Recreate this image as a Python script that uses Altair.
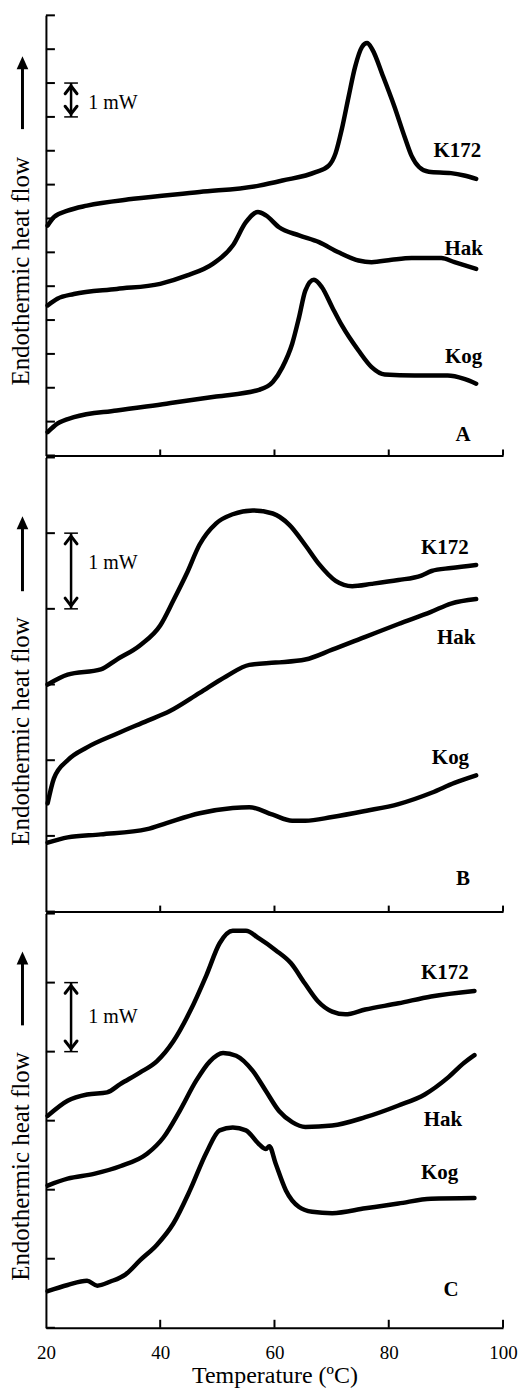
import altair as alt
import pandas as pd

FONT = "Liberation Serif"

# ---------------- Panel A ----------------
A_K172_T = [20.3, 21.4, 23.8, 27.2, 35.3, 46.9, 57.3, 61.4, 67.2, 69.5, 70.7, 71.8, 73.0, 74.1, 75.3, 76.2, 77.1, 79.0, 81.0, 82.8, 84.0, 85.3, 87.0, 90.9, 93.2, 95.3]
A_K172_V = [6.79, 7.04, 7.23, 7.38, 7.58, 7.78, 7.97, 8.12, 8.37, 8.56, 8.93, 9.65, 10.62, 11.47, 12.06, 12.18, 12.00, 11.20, 10.30, 9.40, 8.85, 8.52, 8.38, 8.34, 8.27, 8.17]
A_HAK_T = [20.3, 22.0, 24.9, 32.4, 40.0, 44.6, 49.2, 52.7, 55.0, 57.1, 58.5, 60.8, 64.3, 67.8, 71.2, 74.7, 77.0, 80.5, 84.0, 89.2, 91.5, 95.3]
A_HAK_V = [4.43, 4.63, 4.77, 4.92, 5.07, 5.31, 5.66, 6.20, 6.89, 7.19, 7.09, 6.74, 6.50, 6.30, 6.00, 5.76, 5.71, 5.78, 5.83, 5.83, 5.71, 5.51]
A_KOG_T = [20.3, 22.0, 24.9, 32.4, 41.1, 49.8, 57.3, 59.7, 61.4, 63.1, 64.3, 65.4, 66.9, 68.3, 70.1, 71.8, 74.7, 77.0, 79.3, 84.5, 90.3, 93.2, 95.3]
A_KOG_V = [0.69, 0.94, 1.13, 1.33, 1.53, 1.74, 1.94, 2.17, 2.61, 3.30, 4.08, 4.87, 5.19, 4.97, 4.38, 3.84, 3.10, 2.61, 2.39, 2.36, 2.36, 2.26, 2.12]

# ---------------- Panel B ----------------
B_K172_T = [20.3, 23.8, 29.6, 32.4, 36.5, 40.0, 42.3, 44.6, 46.9, 49.8, 52.7, 56.2, 59.7, 62.6, 65.5, 67.8, 70.7, 73.6, 77.0, 81.7, 85.7, 87.5, 90.9, 95.3]
B_K172_V = [3.00, 3.13, 3.20, 3.33, 3.52, 3.78, 4.11, 4.46, 4.85, 5.13, 5.25, 5.30, 5.26, 5.11, 4.83, 4.59, 4.37, 4.30, 4.33, 4.38, 4.44, 4.50, 4.54, 4.58]
B_HAK_T = [20.3, 21.4, 23.8, 27.2, 32.4, 37.7, 41.7, 46.9, 51.6, 55.6, 60.2, 65.4, 70.1, 75.9, 81.7, 87.4, 90.9, 95.3]
B_HAK_V = [1.43, 1.76, 2.00, 2.17, 2.35, 2.52, 2.65, 2.89, 3.11, 3.26, 3.29, 3.33, 3.46, 3.63, 3.80, 3.96, 4.07, 4.13]
B_KOG_T = [20.3, 23.8, 29.6, 37.7, 41.1, 46.9, 52.7, 55.6, 59.7, 63.1, 65.4, 70.1, 75.9, 81.7, 87.5, 91.5, 95.3]
B_KOG_V = [0.91, 0.98, 1.02, 1.09, 1.17, 1.30, 1.37, 1.38, 1.28, 1.20, 1.20, 1.25, 1.33, 1.42, 1.57, 1.70, 1.80]

# ---------------- Panel C ----------------
C_K172_T = [20.3, 23.8, 27.2, 30.7, 33.0, 36.5, 39.4, 42.3, 45.2, 48.1, 50.4, 52.7, 55.0, 57.3, 60.2, 62.9, 65.3, 67.6, 70.1, 72.4, 75.9, 81.7, 87.4, 95.0]
C_K172_V = [3.07, 3.29, 3.38, 3.41, 3.53, 3.70, 3.86, 4.15, 4.58, 5.11, 5.57, 5.75, 5.75, 5.64, 5.47, 5.28, 4.99, 4.73, 4.58, 4.54, 4.61, 4.70, 4.80, 4.88]
C_HAK_T = [20.3, 23.8, 28.4, 33.0, 37.7, 40.6, 43.4, 46.3, 48.7, 51.0, 53.3, 56.2, 58.5, 60.8, 63.1, 65.4, 70.1, 75.9, 81.7, 86.3, 90.3, 93.2, 95.0]
C_HAK_V = [2.06, 2.16, 2.23, 2.34, 2.52, 2.76, 3.14, 3.58, 3.86, 3.98, 3.94, 3.72, 3.43, 3.14, 2.98, 2.91, 2.93, 3.05, 3.22, 3.38, 3.62, 3.84, 3.95]
C_KOG_T = [20.3, 23.8, 27.2, 29.0, 31.3, 33.9, 36.5, 39.4, 42.3, 45.2, 48.1, 50.4, 52.7, 55.0, 57.3, 58.5, 59.1, 60.2, 62.0, 64.3, 66.6, 70.1, 75.9, 81.7, 87.4, 95.0]
C_KOG_V = [0.53, 0.62, 0.68, 0.61, 0.67, 0.77, 0.98, 1.20, 1.51, 1.99, 2.54, 2.86, 2.90, 2.86, 2.66, 2.59, 2.63, 2.38, 1.99, 1.75, 1.68, 1.66, 1.73, 1.80, 1.87, 1.88]

# series labels: name, T, value
A_LABELS = [("K172", 92.0, 9.0), ("Hak", 93.1, 6.1), ("Kog", 93.1, 2.9)]
B_LABELS = [("K172", 89.8, 4.81), ("Hak", 91.8, 3.62), ("Kog", 90.8, 2.03)]
C_LABELS = [("K172", 89.8, 5.14), ("Hak", 89.5, 3.01), ("Kog", 88.9, 2.24)]

X_TICKS = [20, 40, 60, 80, 100]


def panel(series, ymax, height, labels, letter, letter_pos, bar_lo, text_v,
          title_y, arrow_top, arrow_bot, bottom, xtick_len):
    xscale = alt.Scale(domain=[20, 100], nice=False, zero=False)
    yscale = alt.Scale(domain=[0, ymax], nice=False, zero=False)

    rows = []
    for name, ts, vs in series:
        for t, v in zip(ts, vs):
            rows.append({"series": name, "T": t, "V": v})
    df = pd.DataFrame(rows)

    if bottom:
        xaxis = alt.Axis(values=X_TICKS, ticks=False, tickSize=0, grid=False,
                         domainColor="black", domainWidth=2,
                         labelFont=FONT, labelFontSize=19, labelColor="black",
                         labelPadding=16, labelFlush=False, labelOverlap=False,
                         title="Temperature (ºC)", titleFont=FONT, titleFontSize=24,
                         titleFontWeight="normal", titleColor="black",
                         titleBaseline="alphabetic", titleY=55)
    else:
        xaxis = alt.Axis(labels=False, ticks=False, grid=False, title=None,
                         domainColor="black", domainWidth=2)
    yaxis = alt.Axis(labels=False, ticks=False, grid=False,
                     domainColor="black", domainWidth=2,
                     title="Endothermic heat flow", titleFont=FONT, titleFontSize=25,
                     titleFontWeight="normal", titleColor="black", titleAngle=270,
                     titleAlign="center", titleBaseline="alphabetic",
                     titleX=-17, titleY=title_y)

    X = lambda f: alt.X(f, scale=xscale, axis=xaxis)
    Y = lambda f: alt.Y(f, scale=yscale, axis=yaxis)

    lines = alt.Chart(df).mark_line(
        color="black", strokeWidth=4.5, strokeCap="round", strokeJoin="round",
        interpolate="monotone"
    ).encode(x=X("T:Q"), y=Y("V:Q"), detail="series:N")

    yt = pd.DataFrame({"V": list(range(0, ymax + 1))})
    yticks = alt.Chart(yt).mark_rule(color="black", strokeWidth=2).encode(
        y=Y("V:Q"), x=alt.value(0), x2=alt.value(9),
    )

    xt = pd.DataFrame({"T": X_TICKS[1:]})
    xticks = alt.Chart(xt).mark_rule(color="black", strokeWidth=2).encode(
        x=X("T:Q"), y=alt.value(height), y2=alt.value(height - xtick_len),
    )

    lab = pd.DataFrame({"label": [l[0] for l in labels],
                        "T": [l[1] for l in labels],
                        "V": [l[2] for l in labels]})
    labtext = alt.Chart(lab).mark_text(
        font=FONT, fontSize=21, fontWeight="bold", color="black",
        align="center", baseline="middle"
    ).encode(x=X("T:Q"), y=Y("V:Q"), text="label:N")

    let = pd.DataFrame({"label": [letter], "T": [letter_pos[0]], "V": [letter_pos[1]]})
    lettext = alt.Chart(let).mark_text(
        font=FONT, fontSize=21, fontWeight="bold", color="black",
        align="center", baseline="middle"
    ).encode(x=X("T:Q"), y=Y("V:Q"), text="label:N")

    # 1 mW scale bar
    caps = pd.DataFrame({"T": [23.2, 23.2], "T2": [25.6, 25.6], "V": [bar_lo, bar_lo + 1]})
    capr = alt.Chart(caps).mark_rule(color="black", strokeWidth=1.5).encode(
        x=X("T:Q"), x2="T2:Q", y=Y("V:Q"),
    )
    shaft = pd.DataFrame({"T": [24.4], "V": [bar_lo], "V2": [bar_lo + 1]})
    shaftr = alt.Chart(shaft).mark_rule(color="black", strokeWidth=2.5).encode(
        x=X("T:Q"), y=Y("V:Q"), y2="V2:Q",
    )
    top_head = alt.Chart(pd.DataFrame({"T": [24.4], "V": [bar_lo + 1]})).mark_point(
        shape="M-0.85,1.1L0,0L0.85,1.1", filled=False, color="black",
        strokeWidth=3, size=196, opacity=1, yOffset=3, strokeCap="round"
    ).encode(x=X("T:Q"), y=Y("V:Q"))
    bot_head = alt.Chart(pd.DataFrame({"T": [24.4], "V": [bar_lo]})).mark_point(
        shape="M-0.85,-1.1L0,0L0.85,-1.1", filled=False, color="black",
        strokeWidth=3, size=196, opacity=1, yOffset=-3, strokeCap="round"
    ).encode(x=X("T:Q"), y=Y("V:Q"))
    mw = alt.Chart(pd.DataFrame({"label": ["1 mW"], "T": [27.4], "V": [text_v]})).mark_text(
        font=FONT, fontSize=20, color="black", align="left", baseline="middle"
    ).encode(x=X("T:Q"), y=Y("V:Q"), text="label:N")

    # upward arrow beside the axis title
    one = pd.DataFrame({"a": [0]})
    ashaft = alt.Chart(one).mark_rule(color="black", strokeWidth=3).encode(
        x=alt.value(-23.5), y=alt.value(arrow_top + 10), y2=alt.value(arrow_bot))
    ahead = alt.Chart(one).mark_point(
        shape="M0,-1L0.9,1L-0.9,1Z", filled=True, color="black", opacity=1, size=169
    ).encode(x=alt.value(-23.5), y=alt.value(arrow_top + 6.5))

    return alt.layer(lines, yticks, xticks, labtext, lettext, capr, shaftr,
                     top_head, bot_head, mw, ashaft, ahead).properties(
        width=458, height=height)


pA = panel([("K172", A_K172_T, A_K172_V), ("Hak", A_HAK_T, A_HAK_V), ("Kog", A_KOG_T, A_KOG_V)],
           13, 441, A_LABELS, "A", (93.0, 0.59), 10, 10.4, 256, 41, 114, False, 6)
pB = panel([("K172", B_K172_T, B_K172_V), ("Hak", B_HAK_T, B_HAK_V), ("Kog", B_KOG_T, B_KOG_V)],
           6, 455, B_LABELS, "B", (93.0, 0.43), 4, 4.6, 274, 59, 134, False, 6)
pC = panel([("K172", C_K172_T, C_K172_V), ("Hak", C_HAK_T, C_HAK_V), ("Kog", C_KOG_T, C_KOG_V)],
           6, 415, C_LABELS, "C", (90.9, 0.55), 4, 4.5, 253, 38, 112, True, 8)

chart = alt.vconcat(pA, pB, pC, spacing=0).configure_view(stroke=None).properties(
    padding={"left": 0, "top": 5, "right": 0, "bottom": 0},
    background="white",
)

chart.save("out.html", embed_options={"renderer": "svg", "actions": False})
